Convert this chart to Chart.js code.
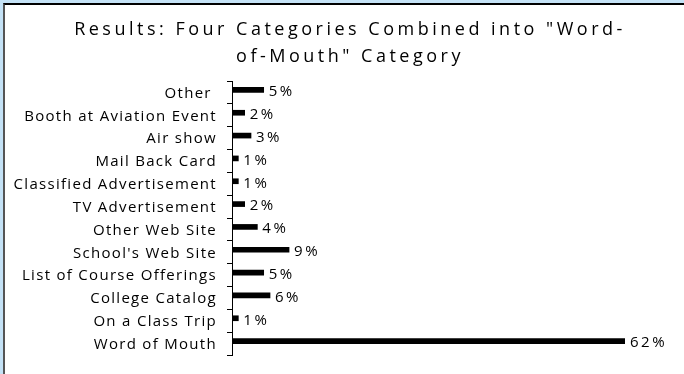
<!DOCTYPE html>
<html>
<head>
<meta charset="utf-8">
<script src="https://cdn.jsdelivr.net/npm/chart.js@4"></script>
<style>
    html, body { margin: 0; padding: 0; }
    body { width: 684px; height: 374px; background: #c4e2f6; overflow: hidden; position: relative; }
    #frame {
        position: absolute; left: 3px; top: 3px;
        width: 681px; height: 371px;
        background: #fff;
        border-top: 2px solid #000;
        border-left: 2px solid #555;
    }
    canvas { display: block; }
</style>
</head>
<body>
<div id="frame">
    <canvas id="resultsChart" width="679" height="369"></canvas>
</div>
<script>
// dados
const categories = ['Other ', 'Booth at Aviation Event', 'Air show', 'Mail Back Card',
    'Classified Advertisement', 'TV Advertisement', 'Other Web Site', "School's Web Site",
    'List of Course Offerings', 'College Catalog', 'On a Class Trip', 'Word of Mouth'];
const percents = [5, 2, 3, 1, 1, 2, 4, 9, 5, 6, 1, 62];
const titleLines = ['Results: Four Categories Combined into "Word-', 'of-Mouth" Category'];

const FONT = '"Open Sans", "DejaVu Sans", sans-serif';

// espacamento entre letras, como no original
const letterSpacingPlugin = {
    id: 'letterSpacing',
    beforeDraw(chart) {
        chart.ctx.letterSpacing = '1.3px';
    }
};

// titulo em duas linhas
const titlePlugin = {
    id: 'titleLines',
    afterDraw(chart) {
        const ctx = chart.ctx;
        ctx.save();
        ctx.letterSpacing = '3.5px';
        ctx.font = '18px ' + FONT;
        ctx.fillStyle = '#000';
        ctx.textAlign = 'center';
        ctx.textBaseline = 'middle';
        ctx.fillText(titleLines[0], 345, 25);
        ctx.fillText(titleLines[1], 345, 52);
        ctx.restore();
    }
};

// valores em % no fim das barras
const valueLabels = {
    id: 'valueLabels',
    afterDatasetsDraw(chart) {
        const ctx = chart.ctx;
        const meta = chart.getDatasetMeta(0);
        ctx.save();
        ctx.letterSpacing = '2.5px';
        ctx.font = '15px ' + FONT;
        ctx.fillStyle = '#000';
        ctx.textAlign = 'left';
        ctx.textBaseline = 'middle';
        meta.data.forEach((bar, i) => {
            ctx.fillText(percents[i] + '%', bar.x + 5, bar.y + 2);
        });
        ctx.restore();
    }
};

const ctx = document.getElementById('resultsChart').getContext('2d');
const chart = new Chart(ctx, {
    type: 'bar',
    data: {
        labels: categories,
        datasets: [{
            data: percents,
            backgroundColor: '#000',
            barThickness: 5,
            categoryPercentage: 0.8
        }, {
            // serie vazia so para subir a barra dentro da faixa
            data: categories.map(() => null),
            backgroundColor: '#000',
            barThickness: 5,
            categoryPercentage: 0.8
        }]
    },
    options: {
        indexAxis: 'y',
        responsive: false,
        animation: false,
        devicePixelRatio: 1,
        layout: {
            padding: { top: 76, right: 59, bottom: 16, left: 5 }
        },
        scales: {
            x: {
                display: false,
                min: 0,
                max: 62
            },
            y: {
                offset: true,
                afterFit: scale => { scale.width = 222; },
                border: { display: true, color: '#000', width: 1 },
                grid: {
                    offset: true,
                    drawOnChartArea: false,
                    drawTicks: true,
                    tickLength: 5,
                    color: '#000'
                },
                ticks: {
                    color: '#000',
                    padding: 10,
                    labelOffset: 1,
                    autoSkip: false,
                    font: { family: FONT, size: 15 }
                }
            }
        },
        plugins: {
            legend: { display: false },
            title: { display: false },
            tooltip: { enabled: false }
        }
    },
    plugins: [letterSpacingPlugin, titlePlugin, valueLabels]
});
</script>
</body>
</html>
